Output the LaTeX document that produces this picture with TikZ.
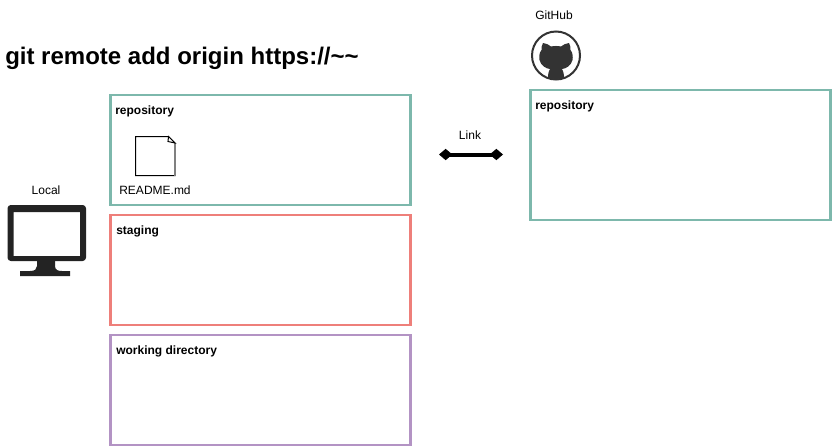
\documentclass[tikz,border=0pt]{standalone}
\usepackage{fontspec}
\setmainfont{Liberation Sans}
\usetikzlibrary{arrows.meta}
\definecolor{tealb}{HTML}{7DB8AC}
\definecolor{redb}{HTML}{EE7F7A}
\definecolor{purpb}{HTML}{B393C4}
\definecolor{iconc}{HTML}{333333}
\definecolor{monc}{HTML}{232323}
\tikzset{
  lbl/.style={inner sep=0pt,font=\fontsize{9}{11}\selectfont,text=black},
  blbl/.style={lbl,anchor=base west,font=\fontsize{9}{11}\selectfont\bfseries},
  box/.style={draw=#1,line width=1.6pt,minimum width=225pt,minimum height=82.5pt,anchor=north west,inner sep=0pt,outer sep=0pt},
  linkline/.style={line width=3pt,{Diamond[length=10pt,width=8.5pt]}-{Diamond[length=10pt,width=8.5pt]}}
}
\begin{document}
\begin{tikzpicture}[x=0.75pt,y=-0.75pt]
\useasboundingbox (0,0) rectangle (832,447);
\node[anchor=base west,inner sep=0pt,font=\fontsize{18}{20}\selectfont\bfseries] (title) at (5,64) {git remote add origin https://\textasciitilde\textasciitilde};
% boxes
\node[box=tealb] (repo) at (110.5,95) {};
\node[box=redb] (stage) at (110.5,215) {};
\node[box=purpb] (work) at (110.5,335) {};
\node[box=tealb,minimum height=97.5pt] (ghrepo) at (530.5,90) {};
\node[blbl] (t1) at (115,114) {repository};
\node[blbl] (t2) at (116,234) {staging};
\node[blbl] (t3) at (116,354) {working directory};
\node[blbl] (t4) at (535,109) {repository};
% document
\draw[line width=0.75pt,fill=white] (135.5,136.5) -- (168.5,136.5) -- (175,143) -- (175,175.5) -- (135.5,175.5) -- cycle;
\draw[line width=1.1pt,draw=gray] (175,143) -- (175,176);
\draw[line width=0.75pt,fill=white] (168.5,136.5) -- (175,143) -- (168,141.5) -- cycle;
\node[lbl] (readme) at (155,190) {README.md};
% link
\node[lbl] (link) at (470,135) {Link};
\coordinate (la) at (439,154.5);
\coordinate (lb) at (503,154.5);
\draw[linkline] (la) -- (lb);
% local monitor
\node[lbl] (local) at (46,190) {Local};
\fill[monc,even odd rule,rounded corners=2.5pt] (7.5,205) rectangle (86,261) (13.5,212) [sharp corners] rectangle (80,256);
\fill[monc] (37,260) -- (55,260) -- (55,266) .. controls (55,270) and (58,271) .. (62,271) -- (70,271) -- (70,276) -- (20,276) -- (20,271) -- (30,271) .. controls (35,271) and (37,269) .. (37,266) -- cycle;
% github
\node[lbl] (gh) at (554,15) {GitHub};
\draw[iconc,line width=1.5pt,fill=white] (556,55.5) circle (24);
\begin{scope}
\clip (556,55.5) circle (23.5);
\fill[iconc] (543,43) .. controls (546,43) and (549,45) .. (551,46.5)
  .. controls (554,45.8) and (558,45.8) .. (561,46.5)
  .. controls (563,45) and (566,43) .. (569,43)
  .. controls (570,45) and (571,48) .. (570.5,50)
  .. controls (573,53) and (573,57) .. (572.5,60)
  .. controls (571,66) and (566,68.5) .. (562,69)
  .. controls (563,71) and (564,73) .. (564,76) -- (564,80) -- (548,80) -- (548,76)
  .. controls (548,73) and (549,71) .. (550,69)
  .. controls (546,68.5) and (541,66) .. (539.5,60)
  .. controls (539,57) and (539,53) .. (541.5,50)
  .. controls (541,48) and (542,45) .. (543,43) -- cycle;
\end{scope}
\end{tikzpicture}
\end{document}
